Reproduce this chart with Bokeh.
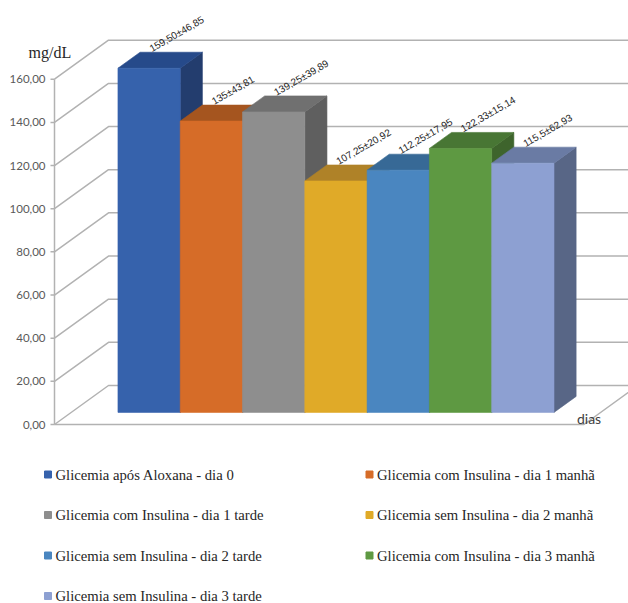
import numpy as np
from bokeh.plotting import figure
from bokeh.layouts import column
from bokeh.models import Range1d
from bokeh.core.properties import value
from bokeh.embed import file_html
from bokeh.resources import INLINE

# ---- data -------------------------------------------------------------
categories = [
    "Glicemia após Aloxana - dia 0",
    "Glicemia com Insulina - dia 1 manhã",
    "Glicemia com Insulina - dia 1 tarde",
    "Glicemia sem Insulina - dia 2 manhã",
    "Glicemia sem Insulina - dia 2 tarde",
    "Glicemia com Insulina - dia 3 manhã",
    "Glicemia sem Insulina - dia 3 tarde",
]
means = [159.50, 135.0, 139.25, 107.25, 112.25, 122.33, 115.5]
value_labels = [
    "159,50±46,85", "135±43,81", "139,25±39,89", "107,25±20,92",
    "112,25±17,95", "122,33±15,14", "115,5±62,93",
]
tick_values = [0, 20, 40, 60, 80, 100, 120, 140, 160]
tick_labels = ["0,00", "20,00", "40,00", "60,00", "80,00",
               "100,00", "120,00", "140,00", "160,00"]
y_unit = "mg/dL"
x_unit = "dias"

front_colors = ["#3662AC", "#D66C28", "#8E8E8E", "#E0AA28", "#4A86C0", "#5E9942", "#8DA0D2"]
top_colors = ["#264A8A", "#A5551F", "#707070", "#AF8228", "#376996", "#487634", "#6A7BA4"]
side_colors = ["#233D6E", "#8A4519", "#5F5F5F", "#94701F", "#2F5A82", "#3E642C", "#586686"]

# ---- oblique 3-D projection -------------------------------------------
W, H_CHART, H_LEGEND = 628, 445, 158
AXIS_COL = 54             # pixel column of the value axis
ZERO_ROW = 424            # pixel row of value 0 on the front plane
PX_PER_CAT = 62.29
PX_PER_VAL = 2.158
DEPTH_X = 54 / PX_PER_CAT
DEPTH_Y = 39 / PX_PER_VAL
BAR_D0, BAR_D1 = 0.31, 0.72
PAD = 0.75
n = len(categories)
X_LEFT = -0.5 - PAD
X_RIGHT = n - 0.5 + PAD


def proj(x, v, d):
    """Front-plane coordinates of a point at depth d (0 = front, 1 = back)."""
    return x + d * DEPTH_X, v + d * DEPTH_Y


def px_x(dx):
    return dx / PX_PER_CAT


def px_y(dy):
    return dy / PX_PER_VAL


x0 = X_LEFT - px_x(AXIS_COL)
p = figure(width=W, height=H_CHART, output_backend="svg", toolbar_location=None,
           x_range=Range1d(x0, x0 + px_x(W)),
           y_range=Range1d(-px_y(H_CHART - ZERO_ROW), px_y(ZERO_ROW)),
           x_axis_location=None, y_axis_location=None,
           min_border_left=0, min_border_right=0,
           min_border_top=0, min_border_bottom=0)
p.outline_line_color = None
p.xgrid.visible = False
p.ygrid.visible = False
p.background_fill_color = "white"
p.border_fill_color = "white"

GRID = "#b2b2b2"

# side wall + back wall gridlines
gx, gy = [], []
for t in tick_values:
    a = proj(X_LEFT, t, 0)
    b = proj(X_LEFT, t, 1)
    c = proj(X_RIGHT, t, 1)
    gx.append([a[0], b[0], c[0]])
    gy.append([a[1], b[1], c[1]])
p.multi_line(gx, gy, line_color=GRID, line_width=1.5)

# floor outline
f0 = proj(X_LEFT, 0, 0)
f1 = proj(X_RIGHT, 0, 0)
f2 = proj(X_RIGHT, 0, 1)
p.line([f0[0], f1[0], f2[0]], [f0[1], f1[1], f2[1]], line_color=GRID, line_width=1.5)

# value axis: line, ticks and labels on the front plane
p.line([X_LEFT, X_LEFT], [tick_values[0], tick_values[-1]], line_color=GRID, line_width=1.5)
p.segment(x0=[X_LEFT - px_x(4)] * len(tick_values), y0=tick_values,
          x1=[X_LEFT] * len(tick_values), y1=tick_values,
          line_color=GRID, line_width=1.5)
p.text([X_LEFT - px_x(9)] * len(tick_values), tick_values, text=tick_labels,
       text_font=value("Lato"), text_font_size="11.5px", text_color="#595959",
       text_align="right", text_baseline="middle")
p.text([X_LEFT - px_x(26)], [tick_values[-1] + px_y(27)], text=[y_unit],
       text_font=value("Liberation Serif"), text_font_size="16px",
       text_color="#262626", text_align="left", text_baseline="alphabetic")

# bars: side, top, front for each, painted left to right
xs, ys, cols = [], [], []
for i, m in enumerate(means):
    xl, xr = i - 0.5, i + 0.5
    side = [proj(xr, 0, BAR_D0), proj(xr, m, BAR_D0), proj(xr, m, BAR_D1), proj(xr, 0, BAR_D1)]
    top = [proj(xl, m, BAR_D0), proj(xr, m, BAR_D0), proj(xr, m, BAR_D1), proj(xl, m, BAR_D1)]
    front = [proj(xl, 0, BAR_D0), proj(xr, 0, BAR_D0), proj(xr, m, BAR_D0), proj(xl, m, BAR_D0)]
    for face, col in ((side, side_colors[i]), (top, top_colors[i]), (front, front_colors[i])):
        xs.append([q[0] for q in face])
        ys.append([q[1] for q in face])
        cols.append(col)
p.patches(xs, ys, fill_color=cols, line_color=cols, line_width=0.6)

# value labels above each bar
mid = (BAR_D0 + BAR_D1) / 2
lx = [proj(i, m, mid)[0] - px_x(10) for i, m in enumerate(means)]
ly = [proj(i, m, mid)[1] + px_y(11) for i, m in enumerate(means)]
p.text(lx, ly, text=value_labels, angle=np.radians(30),
       text_font=value("Liberation Sans"), text_font_size="10px",
       text_color="#262626", text_align="left", text_baseline="alphabetic")

# category axis unit
p.text([X_RIGHT - px_x(7)], [px_y(6)], text=[x_unit],
       text_font=value("Lato"), text_font_size="14px", text_color="#404040",
       text_align="left", text_baseline="alphabetic")

# ---- legend -----------------------------------------------------------
lg = figure(width=W, height=H_LEGEND, output_backend="svg", toolbar_location=None,
            x_range=Range1d(0, W), y_range=Range1d(H_LEGEND, 0),
            x_axis_location=None, y_axis_location=None,
            min_border_left=0, min_border_right=0, min_border_top=0, min_border_bottom=0)
lg.outline_line_color = None
lg.xgrid.visible = False
lg.ygrid.visible = False

COL_X = [47.5, 369.0]
ROW0, ROW_STEP = 29.0, 40.5
mx = [COL_X[i % 2] for i in range(n)]
my = [ROW0 + ROW_STEP * (i // 2) for i in range(n)]
lg.scatter(mx, my, marker="square", size=7, fill_color=front_colors,
           line_color=front_colors)
lg.text([x + 7.5 for x in mx], my, text=categories,
        text_font=value("Liberation Serif"), text_font_size="14.7px",
        text_color="#262626", text_align="left", text_baseline="middle")

layout = column(p, lg, spacing=0)
open("out.html", "w").write(file_html(layout, INLINE))
